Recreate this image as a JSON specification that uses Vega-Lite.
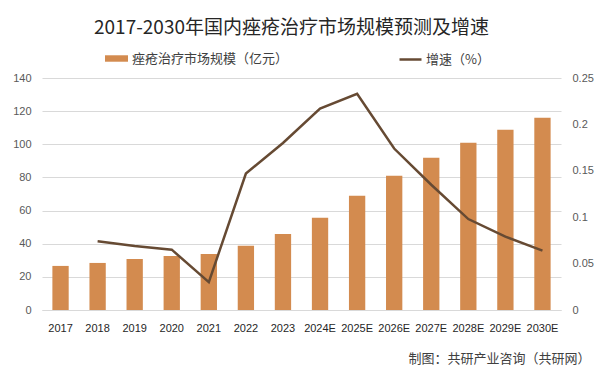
{
  "$schema": "https://vega.github.io/schema/vega-lite/v6.json",
  "width": 519,
  "height": 232,
  "autosize": {"type": "none"},
  "padding": {"left": 42, "top": 78, "right": 41, "bottom": 65},
  "background": "white",
  "title": {
    "text": "2017-2030年国内痤疮治疗市场规模预测及增速",
    "font": "Noto Sans CJK SC",
    "fontSize": 19,
    "fontWeight": "normal",
    "color": "#262626",
    "anchor": "middle",
    "dx": -10,
    "offset": 9
  },
  "config": {"view": {"stroke": null}, "font": "Liberation Sans"},
  "data": {
    "values": [
      {"year": "2017", "scale": 26.6, "growth": null},
      {"year": "2018", "scale": 28.4, "growth": 0.074},
      {"year": "2019", "scale": 30.8, "growth": 0.069},
      {"year": "2020", "scale": 32.6, "growth": 0.065},
      {"year": "2021", "scale": 33.8, "growth": 0.030},
      {"year": "2022", "scale": 38.7, "growth": 0.147},
      {"year": "2023", "scale": 45.9, "growth": 0.180},
      {"year": "2024E", "scale": 55.6, "growth": 0.217},
      {"year": "2025E", "scale": 68.9, "growth": 0.233},
      {"year": "2026E", "scale": 81.0, "growth": 0.174},
      {"year": "2027E", "scale": 91.8, "growth": 0.135},
      {"year": "2028E", "scale": 100.9, "growth": 0.098},
      {"year": "2029E", "scale": 108.8, "growth": 0.079},
      {"year": "2030E", "scale": 116.0, "growth": 0.064}
    ]
  },
  "encoding": {
    "x": {
      "field": "year",
      "type": "ordinal",
      "sort": null,
      "scale": {"paddingInner": 0.56, "paddingOuter": 0.28},
      "axis": {
        "title": "制图：共研产业咨询（共研网）",
        "titleFont": "Noto Sans CJK SC",
        "titleFontSize": 13,
        "titleFontWeight": "normal",
        "titleColor": "#404040",
        "titleX": 548,
        "titleY": 48,
        "titleAlign": "right",
        "titleBaseline": "middle",
        "labelAngle": 0,
        "labelFontSize": 11,
        "labelColor": "#262626",
        "labelPadding": 12,
        "ticks": false,
        "domain": true,
        "domainColor": "#D9D9D9"
      }
    }
  },
  "layer": [
    {
      "mark": {"type": "bar"},
      "encoding": {
        "y": {
          "field": "scale",
          "type": "quantitative",
          "scale": {"domain": [0, 140]},
          "axis": {
            "title": null,
            "values": [0, 20, 40, 60, 80, 100, 120, 140],
            "grid": true,
            "gridColor": "#D9D9D9",
            "domain": false,
            "ticks": false,
            "labelPadding": 11,
            "labelFontSize": 11,
            "labelColor": "#595959"
          }
        },
        "color": {
          "datum": "痤疮治疗市场规模（亿元）",
          "scale": {"range": ["#D38B4F"]},
          "legend": {
            "title": null,
            "orient": "none",
            "legendX": 63,
            "legendY": -31,
            "symbolType": "M-1,-0.28H1V0.28H-1Z",
            "symbolSize": 529,
            "symbolStrokeWidth": 0,
            "labelFont": "Noto Sans CJK SC",
            "labelFontSize": 13,
            "labelColor": "#404040",
            "labelOffset": 4
          }
        }
      }
    },
    {
      "mark": {"type": "line", "strokeWidth": 2.5},
      "encoding": {
        "y": {
          "field": "growth",
          "type": "quantitative",
          "scale": {"domain": [0, 0.25]},
          "axis": {
            "orient": "right",
            "title": null,
            "values": [0, 0.05, 0.1, 0.15, 0.2, 0.25],
            "format": ".2~f",
            "grid": false,
            "domain": false,
            "ticks": false,
            "labelPadding": 11,
            "labelFontSize": 11,
            "labelColor": "#595959"
          }
        },
        "stroke": {
          "datum": "增速（%）",
          "scale": {"range": ["#664A33"]},
          "legend": {
            "title": null,
            "orient": "none",
            "legendX": 356,
            "legendY": -31,
            "symbolType": "stroke",
            "symbolSize": 484,
            "symbolStrokeWidth": 2.5,
            "labelFont": "Noto Sans CJK SC",
            "labelFontSize": 13,
            "labelColor": "#404040",
            "labelOffset": 3
          }
        }
      }
    }
  ],
  "resolve": {"scale": {"y": "independent"}}
}
